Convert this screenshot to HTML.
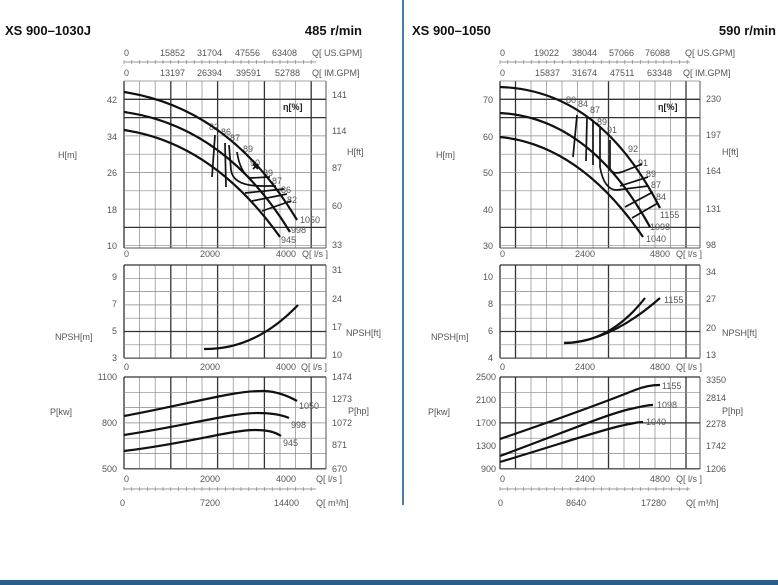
<!DOCTYPE html>
<html><head><meta charset="utf-8"><style>
body{margin:0;background:#fff;width:778px;height:585px;overflow:hidden}
svg{display:block}
text{font-family:"Liberation Sans",sans-serif;fill:#555;font-size:9px}
.t{font-weight:bold;fill:#111;font-size:13px}
.c{fill:none;stroke:#111;stroke-width:2.2}
.e{fill:none;stroke:#111;stroke-width:1.7}
</style></head><body>
<svg id="s" width="778" height="585" xmlns="http://www.w3.org/2000/svg">
<rect x="0" y="580" width="778" height="5" fill="#2a5d8c"/>
<line x1="403" y1="0" x2="403" y2="505" stroke="#4a7ea6" stroke-width="2"/>
<g id="g"></g>
<text class="t" x="5" y="35">XS 900–1030J</text>
<text class="t" x="362" y="35" text-anchor="end">485 r/min</text>
<text class="t" x="412" y="35">XS 900–1050</text>
<text class="t" x="776" y="35" text-anchor="end">590 r/min</text>

<g>
<text x="124" y="56">0</text><text x="160" y="56">15852</text><text x="197" y="56">31704</text><text x="235" y="56">47556</text><text x="272" y="56">63408</text><text x="312" y="56">Q[ US.GPM]</text>
<text x="124" y="76">0</text><text x="160" y="76">13197</text><text x="197" y="76">26394</text><text x="236" y="76">39591</text><text x="275" y="76">52788</text><text x="312" y="76">Q[ IM.GPM]</text>
<text x="117" y="103" text-anchor="end">42</text><text x="117" y="140" text-anchor="end">34</text><text x="117" y="176" text-anchor="end">26</text><text x="117" y="213" text-anchor="end">18</text><text x="117" y="249" text-anchor="end">10</text>
<text x="58" y="158">H[m]</text>
<text x="332" y="98">141</text><text x="332" y="134">114</text><text x="332" y="171">87</text><text x="332" y="209">60</text><text x="332" y="248">33</text>
<text x="347" y="155">H[ft]</text>
<text x="283" y="110" style="font-weight:bold;fill:#222">η[%]</text>
<text x="124" y="257">0</text><text x="200" y="257">2000</text><text x="276" y="257">4000</text><text x="302" y="257">Q[ l/s ]</text>
<text x="117" y="280" text-anchor="end">9</text><text x="117" y="307" text-anchor="end">7</text><text x="117" y="334" text-anchor="end">5</text><text x="117" y="361" text-anchor="end">3</text>
<text x="55" y="340">NPSH[m]</text>
<text x="332" y="273">31</text><text x="332" y="302">24</text><text x="332" y="330">17</text><text x="332" y="358">10</text>
<text x="346" y="336">NPSH[ft]</text>
<text x="124" y="370">0</text><text x="200" y="370">2000</text><text x="276" y="370">4000</text><text x="301" y="370">Q[ l/s ]</text>
<text x="117" y="380" text-anchor="end">1100</text><text x="117" y="426" text-anchor="end">800</text><text x="117" y="472" text-anchor="end">500</text>
<text x="50" y="415">P[kw]</text>
<text x="332" y="380">1474</text><text x="332" y="402">1273</text><text x="332" y="426">1072</text><text x="332" y="448">871</text><text x="332" y="472">670</text>
<text x="348" y="414">P[hp]</text>
<text x="124" y="482">0</text><text x="200" y="482">2000</text><text x="276" y="482">4000</text><text x="316" y="482">Q[ l/s ]</text>
<text x="120" y="506">0</text><text x="200" y="506">7200</text><text x="274" y="506">14400</text><text x="316" y="506">Q[ m³/h]</text>
<text x="209" y="130">82</text><text x="221" y="135">86</text><text x="230" y="141">87</text><text x="243" y="152">89</text><text x="250" y="166">90</text>
<text x="263" y="176">89</text><text x="272" y="184">87</text><text x="281" y="193">86</text><text x="287" y="203">82</text>
<text x="300" y="223">1050</text><text x="291" y="233">998</text><text x="281" y="243">945</text>
<text x="299" y="409">1050</text><text x="291" y="428">998</text><text x="283" y="446">945</text>
</g>

<g>
<text x="500" y="56">0</text><text x="534" y="56">19022</text><text x="572" y="56">38044</text><text x="609" y="56">57066</text><text x="645" y="56">76088</text><text x="685" y="56">Q[ US.GPM]</text>
<text x="500" y="76">0</text><text x="535" y="76">15837</text><text x="572" y="76">31674</text><text x="610" y="76">47511</text><text x="647" y="76">63348</text><text x="683" y="76">Q[ IM.GPM]</text>
<text x="493" y="103" text-anchor="end">70</text><text x="493" y="140" text-anchor="end">60</text><text x="493" y="176" text-anchor="end">50</text><text x="493" y="213" text-anchor="end">40</text><text x="493" y="249" text-anchor="end">30</text>
<text x="436" y="158">H[m]</text>
<text x="706" y="102">230</text><text x="706" y="138">197</text><text x="706" y="174">164</text><text x="706" y="212">131</text><text x="706" y="248">98</text>
<text x="722" y="155">H[ft]</text>
<text x="658" y="110" style="font-weight:bold;fill:#222">η[%]</text>
<text x="500" y="257">0</text><text x="575" y="257">2400</text><text x="650" y="257">4800</text><text x="676" y="257">Q[ l/s ]</text>
<text x="493" y="280" text-anchor="end">10</text><text x="493" y="307" text-anchor="end">8</text><text x="493" y="334" text-anchor="end">6</text><text x="493" y="361" text-anchor="end">4</text>
<text x="431" y="340">NPSH[m]</text>
<text x="706" y="275">34</text><text x="706" y="302">27</text><text x="706" y="331">20</text><text x="706" y="358">13</text>
<text x="722" y="336">NPSH[ft]</text>
<text x="500" y="370">0</text><text x="575" y="370">2400</text><text x="650" y="370">4800</text><text x="676" y="370">Q[ l/s ]</text>
<text x="496" y="380" text-anchor="end">2500</text><text x="496" y="403" text-anchor="end">2100</text><text x="496" y="426" text-anchor="end">1700</text><text x="496" y="449" text-anchor="end">1300</text><text x="496" y="472" text-anchor="end">900</text>
<text x="428" y="415">P[kw]</text>
<text x="706" y="383">3350</text><text x="706" y="401">2814</text><text x="706" y="427">2278</text><text x="706" y="449">1742</text><text x="706" y="472">1206</text>
<text x="722" y="414">P[hp]</text>
<text x="500" y="482">0</text><text x="575" y="482">2400</text><text x="650" y="482">4800</text><text x="676" y="482">Q[ l/s ]</text>
<text x="498" y="506">0</text><text x="566" y="506">8640</text><text x="641" y="506">17280</text><text x="686" y="506">Q[ m³/h]</text>
<text x="566" y="103">80</text><text x="578" y="107">84</text><text x="590" y="113">87</text><text x="597" y="125">89</text><text x="607" y="133">91</text><text x="628" y="152">92</text>
<text x="638" y="166">91</text><text x="646" y="177">89</text><text x="651" y="188">87</text><text x="656" y="200">84</text>
<text x="660" y="218">1155</text><text x="650" y="230">1098</text><text x="646" y="242">1040</text>
<text x="664" y="303">1155</text>
<text x="662" y="389">1155</text><text x="657" y="408">1098</text><text x="646" y="425">1040</text>
</g>

<path class="c" d="M124,92 Q230,108 297,220"/>
<path class="c" d="M124,112 Q225,126 290,232"/>
<path class="c" d="M124,130 Q213,143 280,237"/>
<path class="e" d="M215,135 L212,177"/>
<path class="e" d="M225,143 L226,187"/>
<path class="e" d="M229,145 L231,170 Q233,186 262,186 L276,186"/>
<path class="e" d="M237,152 Q240,172 250,178 L270,177"/>
<path class="e" d="M245,193 L284,189"/>
<path class="e" d="M252,201 L287,194"/>
<path class="e" d="M262,211 L291,201"/>
<path class="e" d="M253,164 l5,5 m0,-5 l-5,5"/>
<path class="c" d="M204,349 Q255,350 298,305"/>
<path class="c" d="M124,416 C190,404 235,390 265,391 C280,392 290,397 297,401"/>
<path class="c" d="M124,435 C190,425 230,413 258,413 C272,413 282,415 289,418"/>
<path class="c" d="M124,451 C190,443 230,430 255,430 C268,430 275,432 281,436"/>

<path class="c" d="M500,87 Q600,90 660,208"/>
<path class="c" d="M500,113 Q590,118 650,227"/>
<path class="c" d="M500,137 Q580,145 643,237"/>
<path class="e" d="M577,115 L573,157"/>
<path class="e" d="M587,117 L586,161"/>
<path class="e" d="M593,120 L593,165"/>
<path class="e" d="M600,128 L600,167 Q604,190 617,190 L648,186"/>
<path class="e" d="M610,140 L610,168 Q612,175 622,172 L642,164"/>
<path class="e" d="M620,186 L648,177"/>
<path class="e" d="M625,207 L653,192"/>
<path class="e" d="M632,218 L658,203"/>
<path class="c" d="M564,343 Q610,342 660,298"/>
<path class="c" d="M564,343 Q610,343 645,298"/>
<path class="c" d="M500,439 C570,415 610,400 635,390 C645,386 652,385 660,385"/>
<path class="c" d="M500,456 C565,432 605,415 630,409 C640,407 646,405 653,405"/>
<path class="c" d="M500,462 C560,444 595,432 620,426 C630,424 637,422 643,422"/>
</svg>
<script>
var g=document.getElementById('g'),h='';
function L(x1,y1,x2,y2,w,c){h+='<line x1="'+x1+'" y1="'+y1+'" x2="'+x2+'" y2="'+y2+'" stroke="'+(c||'#666')+'" stroke-width="'+w+'"/>';}
function panel(x0,x1,y0,y1,dx,majX,dy,majY){
 for(var x=x0;x<=x1+0.5;x+=dx){var m=majX.some(function(v){return Math.abs(v-x)<2});L(x,y0,x,y1,m?1.3:0.7,m?'#333':'#888');}
 L(x1,y0,x1,y1,1,'#555');
 for(var y=y0;y<=y1+0.5;y+=dy){var m=majY.some(function(v){return Math.abs(v-y)<2});L(x0,y,x1,y,m?1.3:0.7,m?'#333':'#888');}
 L(x0,y1,x1,y1,1,'#555');
}
panel(124,326,81,248,15.6,[124,171,218,265,312],18.3,[100,118,228,248]);
panel(124,326,265,358,15.6,[124,171,218,265,312],13.3,[265,331,358]);
panel(124,326,377,469,15.6,[124,171,218,265,312],15.3,[377,469]);
panel(500,700,81,248,15.5,[500,516,609,687],18.3,[100,118,228,248]);
panel(500,700,265,358,15.5,[500,516,609,687],13.3,[265,331,358]);
panel(500,700,377,469,15.5,[500,516,609,687],15.3,[377,423,469]);
[[124,326],[500,700]].forEach(function(p){
 L(p[0],62,p[1]-10,62,0.8,'#777');L(p[0],489,p[1]-10,489,0.8,'#777');
 for(var x=p[0];x<p[1]-10;x+=7.8){L(x,60,x,64,0.6,'#777');L(x,487,x,491,0.6,'#777');}
});
g.innerHTML=h;
</script>
</body></html>
